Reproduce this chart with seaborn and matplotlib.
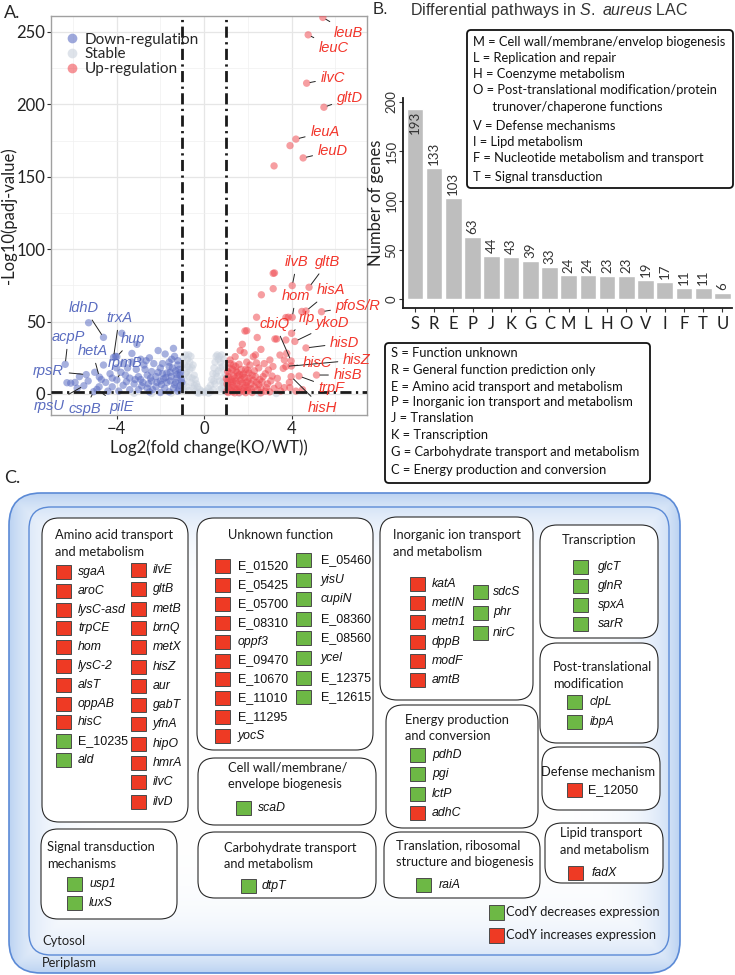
import numpy as np
import pandas as pd
import seaborn as sns
import matplotlib.pyplot as plt
from matplotlib.patches import FancyBboxPatch, Rectangle
from matplotlib.lines import Line2D

sns.set_theme(style="white")
plt.rcParams['font.family'] = ['Lato', 'DejaVu Sans']
plt.rcParams['mathtext.fontset'] = 'custom'
plt.rcParams['mathtext.it'] = 'Liberation Sans:italic'
plt.rcParams['mathtext.rm'] = 'Liberation Sans'

############################ panel A data ############################
# labelled genes: name, log2FC, -log10(padj)
lab_genes = ['leuB', 'leuC', 'ilvC', 'gltD', 'leuA', 'leuD', 'ilvB', 'gltB', 'hom', 'hisA',
             'pfoS/R', 'rlp', 'cbiQ', 'ykoD', 'hisD', 'hisZ', 'hisC', 'hisB', 'trpF', 'hisH',
             'ldhD', 'trxA', 'hup', 'acpP', 'hetA', 'rpmB', 'rpsR', 'rpsU', 'cspB', 'pilE']
lab_x = [5.43, 4.76, 4.69, 5.48, 4.20, 4.53, 4.03, 4.80, 4.03, 4.66,
         5.37, 4.00, 3.98, 4.15, 4.66, 3.99, 3.74, 5.14, 4.34, 3.98,
         -4.60, -4.14, -3.99, -6.35, -4.79, -3.99, -5.39, -5.50, -5.05, -4.90]
lab_y = [260, 248, 214.6, 198, 176, 163, 74.8, 73.7, 53, 57.3,
         56.8, 41.9, 22.8, 36.3, 31.8, 19.3, 19.0, 13.1, 12.4, 12.0,
         39.1, 25.3, 25.8, 20.5, 11.7, 9.7, 13.4, 5.7, 1.6, 3.2]
# where the label text sits (data units)
lab_tx = [6.62, 5.94, 5.89, 6.67, 5.53, 5.89, 4.25, 5.66, 4.20, 5.80,
          6.02, 4.70, 3.24, 5.89, 6.44, 6.99, 5.20, 6.58, 5.84, 5.43,
          -5.48, -3.88, -3.24, -6.21, -5.11, -3.61, -7.12, -7.10, -5.45, -3.79]
lab_ty = [249.3, 239, 218.2, 204.4, 181, 167.8, 91.2, 91.2, 67.7, 71.5,
          61.0, 52.5, 48.3, 49, 35.2, 23.5, 21.4, 13.1, 4.1, -9.7,
          59.4, 52.5, 38, 39.4, 29.7, 21.4, 15.9, -8.0, -10.5, -9.0]

up_pts = [(3.93, 171.5), (3.20, 157.5), (3.16, 83.3), (3.22, 83.6), (3.16, 72.7), (2.62, 68.5),
          (3.74, 52.8), (3.85, 53), (4.47, 57), (2.40, 53), (1.95, 43.7), (1.87, 43.5),
          (3.24, 38), (3.78, 28.1), (3.32, 38), (3.74, 37.3), (2.43, 39), (1.75, 34.3),
          (2.60, 30.8), (1.83, 28.5), (2.25, 25.8), (3.01, 23.5), (3.47, 26.9), (3.67, 23.5),
          (1.42, 25.8), (1.19, 23.5), (2.94, 16.6), (3.35, 10.8), (3.67, 4.4), (3.92, 4.4),
          (3.20, 3.9), (3.11, 12.4), (3.62, 17.7), (2.10, 20), (2.50, 18), (1.60, 20.5),
          (1.30, 17), (1.50, 15), (1.80, 14), (2.20, 13), (2.70, 12), (1.10, 12),
          (1.40, 11), (1.70, 10), (2.00, 9), (2.40, 8), (2.90, 7), (1.20, 8),
          (1.50, 7), (1.90, 6), (2.30, 5), (2.60, 4), (1.10, 5), (1.40, 4),
          (1.70, 3), (2.00, 2.5), (2.80, 2), (1.05, 2), (1.30, 1.5), (1.60, 1),
          (2.20, 1), (3.00, 1.5), (1.15, 14.5), (1.35, 20), (1.90, 17), (2.30, 16),
          (1.25, 10), (1.55, 12.5), (1.85, 11.5), (2.05, 14.5), (1.45, 9), (1.75, 7.5),
          (2.15, 7), (2.55, 10), (1.10, 9.5), (1.30, 6), (1.60, 5), (2.00, 4.5),
          (2.45, 3), (1.20, 3), (1.50, 2.5), (1.80, 2), (4.50, 3), (3.50, 2),
          (1.95, 22), (2.75, 21), (2.35, 27), (1.65, 30), (1.05, 7), (1.15, 18),
          (1.25, 4.5), (1.35, 12.5), (1.45, 16), (1.55, 3.5), (1.65, 9), (1.75, 13),
          (1.85, 4.5), (1.95, 8), (2.05, 11), (2.15, 3.5), (2.25, 9.5), (2.35, 12),
          (2.50, 6.5), (2.65, 8.5), (2.85, 4.5), (3.05, 9), (3.40, 6), (1.08, 15.5),
          (1.20, 21), (1.45, 19), (1.70, 17), (2.00, 16.5), (2.40, 21.5), (2.80, 14),
          (3.15, 19), (3.90, 8), (4.20, 2), (1.02, 10.5), (1.32, 8.5), (1.62, 13.5),
          (1.10, 1), (1.40, 0.8), (1.90, 0.9), (2.60, 0.8)]

down_pts = [(-5.28, 49.2), (-3.76, 41.9), (-3.07, 34.3), (-6.27, 7.8), (-6.10, 7.5), (-1.40, 31.5),
            (-1.48, 24), (-1.78, 27.6), (-2.50, 25), (-2.30, 21), (-2.90, 24), (-3.30, 22),
            (-3.50, 18), (-2.70, 17), (-2.00, 18), (-1.60, 19), (-1.20, 20), (-1.30, 16),
            (-1.10, 13), (-1.50, 12), (-1.90, 14), (-2.20, 12), (-2.60, 13), (-3.00, 12),
            (-3.40, 11), (-3.80, 15), (-4.30, 14), (-4.50, 8), (-4.20, 5), (-3.70, 6),
            (-3.20, 7), (-2.80, 8), (-2.40, 9), (-2.00, 9), (-1.70, 8), (-1.30, 8),
            (-1.10, 6), (-1.40, 4), (-1.80, 4), (-2.20, 5), (-2.60, 4), (-3.00, 3),
            (-3.40, 3), (-3.90, 2), (-1.20, 2), (-1.60, 1.5), (-2.00, 1), (-2.50, 1.5),
            (-1.05, 10), (-1.25, 11), (-1.55, 15), (-1.85, 10.5), (-2.10, 15), (-2.45, 11),
            (-2.75, 20), (-3.10, 17), (-3.60, 13), (-4.00, 18), (-4.60, 20), (-5.00, 15),
            (-5.70, 12), (-5.90, 8), (-4.80, 5), (-4.40, 2), (-5.30, 9), (-3.30, 28),
            (-2.10, 30), (-1.60, 22), (-1.15, 17), (-1.35, 26), (-4.70, 10), (-4.05, 26),
            (-1.15, 3.5), (-1.35, 6.5), (-1.55, 9), (-1.75, 11.5), (-1.95, 6.5), (-2.15, 8),
            (-2.35, 3), (-2.55, 7), (-2.85, 5.5), (-3.15, 10), (-3.55, 8.5), (-1.08, 15),
            (-1.25, 13.5), (-1.45, 18), (-1.70, 14.5), (-2.40, 15.5), (-2.90, 10), (-3.70, 21),
            (-1.02, 8), (-1.20, 23), (-1.90, 21), (-2.65, 23), (-4.20, 11), (-5.80, 4)]

stable_pts = [(-0.95, 25), (-0.90, 20), (-0.85, 27), (-0.80, 15), (-0.75, 24), (-0.70, 27),
              (-0.65, 22), (-0.60, 26), (-0.55, 18), (-0.50, 20), (-0.45, 13), (-0.40, 10),
              (-0.35, 7), (-0.30, 5), (-0.20, 3), (-0.10, 2), (0.00, 1), (0.10, 2),
              (0.20, 4), (0.30, 6), (0.35, 10), (0.40, 14), (0.45, 18), (0.50, 22),
              (0.55, 26), (0.60, 27), (0.65, 24), (0.70, 26), (0.75, 22), (0.80, 27),
              (0.85, 19), (0.90, 24), (0.95, 14), (-0.90, 10), (-0.80, 5), (-0.70, 12),
              (-0.60, 8), (-0.50, 4), (-0.40, 2), (-0.30, 1), (0.30, 1.5), (0.40, 3),
              (0.50, 7), (0.60, 12), (0.70, 9), (0.80, 4), (0.90, 11), (-0.95, 3),
              (0.95, 2), (-0.65, 17), (0.65, 16), (-0.85, 14), (0.85, 8), (-0.75, 19),
              (0.75, 18), (-0.55, 11), (0.55, 14), (-0.92, 7), (0.92, 6), (-0.45, 6),
              (0.45, 9), (-1.5, 0.6), (-2.4, 0.4), (-3.2, 0.5), (1.6, 0.5), (2.5, 0.4),
              (3.3, 0.3), (-0.25, 0.5), (0.2, 0.6), (-0.7, 2.5), (0.7, 3)]

############################ panel B data ############################
cog_letters = ['S', 'R', 'E', 'P', 'J', 'K', 'G', 'C', 'M', 'L', 'H', 'O', 'V', 'I', 'F', 'T', 'U']
cog_counts = [193, 133, 103, 63, 44, 43, 39, 33, 24, 24, 23, 23, 19, 17, 11, 11, 6]
legend_top = ['M = Cell wall/membrane/envelop biogenesis', 'L = Replication and repair',
              'H = Coenzyme metabolism', 'O = Post-translational modification/protein',
              '      trunover/chaperone functions', 'V = Defense mechanisms', 'I = Lipd metabolism',
              'F = Nucleotide metabolism and transport', 'T = Signal transduction']
legend_bottom = ['S = Function unknown', 'R = General function prediction only',
                 'E = Amino acid transport and metabolism', 'P = Inorganic ion transport and metabolism',
                 'J = Translation', 'K = Transcription', 'G = Carbohydrate transport and metabolism',
                 'C = Energy production and conversion']

############################ panel C data ############################
# I = CodY increases expression (red), D = CodY decreases expression (green)
amino_a = ['sgaA', 'aroC', 'lysC-asd', 'trpCE', 'hom', 'lysC-2', 'alsT', 'oppAB', 'hisC', 'E_10235', 'ald']
amino_a_eff = ['I', 'I', 'I', 'I', 'I', 'I', 'I', 'I', 'I', 'D', 'D']
amino_b = ['ilvE', 'gltB', 'metB', 'brnQ', 'metX', 'hisZ', 'aur', 'gabT', 'yfnA', 'hipO', 'hmrA', 'ilvC', 'ilvD']
amino_b_eff = ['I', 'I', 'I', 'I', 'I', 'I', 'I', 'I', 'I', 'I', 'I', 'I', 'I']
unknown_a = ['E_01520', 'E_05425', 'E_05700', 'E_08310', 'oppf3', 'E_09470', 'E_10670', 'E_11010', 'E_11295', 'yocS']
unknown_a_eff = ['I', 'I', 'I', 'I', 'I', 'I', 'I', 'I', 'I', 'I']
unknown_b = ['E_05460', 'yisU', 'cupiN', 'E_08360', 'E_08560', 'ycel', 'E_12375', 'E_12615']
unknown_b_eff = ['D', 'D', 'D', 'D', 'D', 'D', 'D', 'D']
inorg_a = ['katA', 'metIN', 'metn1', 'dppB', 'modF', 'amtB']
inorg_a_eff = ['I', 'I', 'I', 'I', 'I', 'I']
inorg_b = ['sdcS', 'phr', 'nirC']
inorg_b_eff = ['D', 'D', 'D']
energy = ['pdhD', 'pgi', 'lctP', 'adhC']
energy_eff = ['D', 'D', 'D', 'I']
transcr = ['glcT', 'glnR', 'spxA', 'sarR']
transcr_eff = ['D', 'D', 'D', 'D']
posttrans = ['clpL', 'ibpA']
posttrans_eff = ['D', 'D']
signal = ['usp1', 'luxS']
signal_eff = ['D', 'D']
cellwall = ['scaD']
cellwall_eff = ['D']
carbo = ['dtpT']
carbo_eff = ['D']
transl = ['raiA']
transl_eff = ['D']
defense = ['E_12050']
defense_eff = ['I']
lipid = ['fadX']
lipid_eff = ['I']

RED = '#EE3A24'
GREEN = '#6DB845'

fig = plt.figure(figsize=(7.35, 9.75), dpi=100)

def fx(px):
    return px / 735.0

def fy(py):
    return 1 - py / 975.0

############################ A. volcano ############################
axA = fig.add_axes([fx(51), fy(415), fx(316), 399 / 975.0])
dfs = []
for pts, g in [(stable_pts, 'Stable'), (down_pts, 'Down-regulation'), (up_pts, 'Up-regulation')]:
    d = pd.DataFrame(pts, columns=['lfc', 'p'])
    d['group'] = g
    dfs.append(d)
lab = pd.DataFrame({'lfc': lab_x, 'p': lab_y})
lab['group'] = np.where(lab['lfc'] > 0, 'Up-regulation', 'Down-regulation')
dfs.append(lab)
volc = pd.concat(dfs, ignore_index=True)
pal = {'Down-regulation': '#5E6FC4', 'Stable': '#C9D1DD', 'Up-regulation': '#F04E55'}
sns.scatterplot(data=volc, x='lfc', y='p', hue='group', palette=pal, s=28, alpha=0.55,
                linewidth=0, legend=False, ax=axA, zorder=3)
axA.set_xlim(-7.0, 7.45)
axA.set_ylim(-14.5, 261)
axA.set_xticks([-4, 0, 4])
axA.set_xticks([-6, -2, 2, 6], minor=True)
axA.set_yticks([0, 50, 100, 150, 200, 250])
axA.set_yticks([25, 75, 125, 175, 225], minor=True)
axA.grid(which='major', color='#E6E6E6', lw=0.9, zorder=0)
axA.grid(which='minor', color='#F0F0F0', lw=0.5, zorder=0)
axA.set_axisbelow(True)
for s in axA.spines.values():
    s.set_color('#A0A0A0')
    s.set_linewidth(1)
axA.tick_params(which='major', direction='out', length=3, width=0.8, color='#333', pad=1,
                labelsize=12, labelcolor='#222', bottom=True, left=True)
axA.tick_params(which='minor', length=0)
dash = (0, (4, 1.6, 0.8, 1.6))
axA.axvline(-1, color='k', lw=2, ls=dash, zorder=4)
axA.axvline(1, color='k', lw=2, ls=dash, zorder=4)
axA.axhline(1.3, color='k', lw=2, ls=dash, zorder=4)
axA.set_xlabel('Log2(fold change(KO/WT))', fontsize=12, color='#222', labelpad=2)
axA.set_ylabel('-Log10(padj-value)', fontsize=12, color='#222', labelpad=0)
for g, x, y, tx, ty in zip(lab_genes, lab_x, lab_y, lab_tx, lab_ty):
    c = '#F2352B' if x > 0 else '#5A6CC0'
    ha = 'left' if g == 'pfoS/R' else 'center'
    axA.annotate(g, xy=(x, y), xytext=(tx, ty), color=c, fontsize=10.5, style='italic',
                 family='Liberation Sans', ha=ha, va='center', annotation_clip=False, zorder=6,
                 arrowprops=dict(arrowstyle='-', color='#222', lw=0.7, shrinkA=1.5, shrinkB=2.5))
handles = [Line2D([], [], ls='', marker='o', ms=7, mec='none', mfc=pal[k], alpha=0.6)
           for k in ['Down-regulation', 'Stable', 'Up-regulation']]
axA.legend(handles, ['Down-regulation', 'Stable', 'Up-regulation'], frameon=False, loc='upper left',
           bbox_to_anchor=(0.0, 0.985), fontsize=11, handletextpad=0.1, labelspacing=0.05,
           borderaxespad=0.3, handlelength=1.4)
fig.text(fx(4), fy(13), 'A.', fontsize=13, va='center', ha='left')

############################ B. bars ############################
axB = fig.add_axes([fx(403), fy(308), fx(329), 210 / 975.0])
sns.barplot(x=cog_letters, y=cog_counts, color='#BEBEBE', saturation=1, width=0.87, ax=axB, zorder=2)
axB.set_xlim(-0.62, 16.5)
axB.set_ylim(-9, 204)
sns.despine(ax=axB)
for s in ['left', 'bottom']:
    axB.spines[s].set_color('k')
    axB.spines[s].set_linewidth(1.3)
axB.set_yticks([0, 50, 100, 150, 200])
axB.tick_params(axis='y', length=3, width=0.8, color='#333', pad=1, labelsize=9.5, labelcolor='#333', left=True)
axB.tick_params(axis='x', length=3, width=0.8, color='#333', pad=3, labelsize=12, labelcolor='#222', bottom=True)
for t in axB.get_yticklabels():
    t.set_rotation(90)
    t.set_va('center')
axB.set_ylabel('Number of genes', fontsize=12, color='#222', labelpad=1)
for i, v in enumerate(cog_counts):
    if v + 26 > 204:
        axB.text(i, v - 2, str(v), rotation=90, ha='center', va='top', fontsize=9.5, color='#333')
    else:
        axB.text(i, v + 3, str(v), rotation=90, ha='center', va='bottom', fontsize=9.5, color='#333')
fig.text(fx(373), fy(10), 'B.', fontsize=12, va='center', ha='left', family='Liberation Sans')
fig.text(fx(410), fy(10), r'Differential pathways in $\it{S.\ aureus}$ LAC', fontsize=11.5,
         va='center', ha='left', family='Liberation Sans', color='#333')

############################ overlay (legends of B and panel C) ############################
ov = fig.add_axes([0, 0, 1, 1], zorder=5)
ov.patch.set_alpha(0)
ov.axis('off')

def legbox(x0, y0, x1, y1, lines, ty0, dys):
    ov.add_patch(FancyBboxPatch((x0, y0), x1 - x0, y1 - y0, boxstyle='round,pad=0,rounding_size=4',
                                fc='white', ec='#111', lw=1.3, zorder=2))
    y = ty0
    for k, t in enumerate(lines):
        ov.text(x0 + 6, y, t, fontsize=9.3, va='center', ha='left', color='#111', zorder=3)
        y += dys[k] if k < len(dys) else dys[-1]

legbox(467, 30, 733, 188, legend_top, 42, [16, 16, 16, 17, 19, 16, 16, 19])
legbox(385, 343, 650, 483, legend_bottom, 353, [16.5, 17.5, 15.5, 16, 16.5, 17, 18])

fig.text(fx(4), fy(478), 'C.', fontsize=13, va='center', ha='left')

# gradient cell
ox0, oy0, ox1, oy1 = 9, 493, 680, 973
outer = FancyBboxPatch((ox0, oy0), ox1 - ox0, oy1 - oy0, boxstyle='round,pad=0,rounding_size=32',
                       fc='none', ec='#5B8AD6', lw=1.2, zorder=3)
ov.add_patch(outer)
gx = np.linspace(ox0, ox1, 340)
gy = np.linspace(oy0, oy1, 240)
GX, GY = np.meshgrid(gx, gy)
dist = np.minimum.reduce([GX - ox0, ox1 - GX, GY - oy0, oy1 - GY])
k = np.exp(-dist / 28.0)[..., None]
rgb = 1 - k * (1 - np.array([0.74, 0.83, 0.95]))
im = ov.imshow(rgb, extent=(ox0, ox1, oy1, oy0), zorder=1, interpolation='bilinear', aspect='auto')
im.set_clip_path(outer)
ov.add_patch(FancyBboxPatch((29, 507), 640, 448, boxstyle='round,pad=0,rounding_size=22',
                            fc='none', ec='#5B8AD6', lw=1.0, zorder=3))
ov.text(42, 941, 'Cytosol', fontsize=9.3, va='center', ha='left', color='#222', zorder=6)
ov.text(42, 963, 'Periplasm', fontsize=9.3, va='center', ha='left', color='#222', zorder=6)

def cbox(x0, y0, x1, y1, title_lines, tx, ty):
    ov.add_patch(FancyBboxPatch((x0, y0), x1 - x0, y1 - y0, boxstyle='round,pad=0,rounding_size=17',
                                fc='white', ec='#2A2A2A', lw=0.8, zorder=3))
    for k, t in enumerate(title_lines):
        ov.text(tx, ty + k * 16.5, t, fontsize=9.3, va='center', ha='left', color='#1A1A1A', zorder=6)

def gene_col(names, effects, xs, xt, y0, dy):
    for k, (g, e) in enumerate(zip(names, effects)):
        y = y0 + k * dy
        ov.add_patch(Rectangle((xs, y - 7), 15, 14, fc=RED if e == 'I' else GREEN, ec='#4A4A4A',
                               lw=0.7, zorder=5))
        ital = not g.startswith('E_')
        ov.text(xt, y, g, fontsize=8.8 if ital else 9, style='italic' if ital else 'normal',
                family='Liberation Sans', va='center', ha='left', color='#111', zorder=6)

cbox(42, 518, 188, 822, ['Amino acid transport', 'and metabolism'], 55, 535)
gene_col(amino_a, amino_a_eff, 56, 78, 572, 18.8)
gene_col(amino_b, amino_b_eff, 131, 153, 570, 19.3)
cbox(197, 518, 373, 750, ['Unknown function'], 228, 535)
gene_col(unknown_a, unknown_a_eff, 215, 238, 566, 18.9)
gene_col(unknown_b, unknown_b_eff, 296, 321, 560, 19.6)
cbox(198, 758, 376, 825, ['Cell wall/membrane/', 'envelope biogenesis'], 228, 767)
gene_col(cellwall, cellwall_eff, 236, 258, 808, 19)
cbox(198, 832, 376, 898, ['Carbohydrate transport', 'and metabolism'], 224, 848)
gene_col(carbo, carbo_eff, 241, 262, 886, 19)
cbox(41, 829, 177, 919, ['Signal transduction', 'mechanisms'], 47, 847)
gene_col(signal, signal_eff, 67, 89, 884, 19)
cbox(380, 517, 533, 700, ['Inorganic ion transport', 'and metabolism'], 393, 535)
gene_col(inorg_a, inorg_a_eff, 410, 432, 584, 19.2)
gene_col(inorg_b, inorg_b_eff, 473, 493, 592, 20.5)
cbox(386, 705, 538, 828, ['Energy production', 'and conversion'], 405, 720)
gene_col(energy, energy_eff, 410, 432, 755, 19.3)
cbox(384, 832, 540, 898, ['Translation, ribosomal', 'structure and biogenesis'], 396, 845)
gene_col(transl, transl_eff, 416, 439, 885, 19)
cbox(540, 525, 658, 638, ['Transcription'], 562, 540)
gene_col(transcr, transcr_eff, 573, 598, 567, 19)
cbox(540, 643, 658, 743, ['Post-translational', 'modification'], 553, 667)
gene_col(posttrans, posttrans_eff, 567, 590, 702, 20)
cbox(542, 747, 660, 810, ['Defense mechanism'], 541, 772)
gene_col(defense, defense_eff, 567, 588, 790, 19)
cbox(545, 823, 663, 883, ['Lipid transport', 'and metabolism'], 560, 833)
gene_col(lipid, lipid_eff, 568, 592, 873, 19)

# legend of panel C
for y, c, t in [(912, GREEN, 'CodY decreases expression'), (935, RED, 'CodY increases expression')]:
    ov.add_patch(Rectangle((489, y - 7.5), 15, 15, fc=c, ec='#4A4A4A', lw=0.7, zorder=5))
    ov.text(506, y, t, fontsize=9.3, va='center', ha='left', color='#1A1A1A', zorder=6)

ov.set_xlim(0, 735)
ov.set_ylim(975, 0)

fig.savefig('out.png', dpi=100)
